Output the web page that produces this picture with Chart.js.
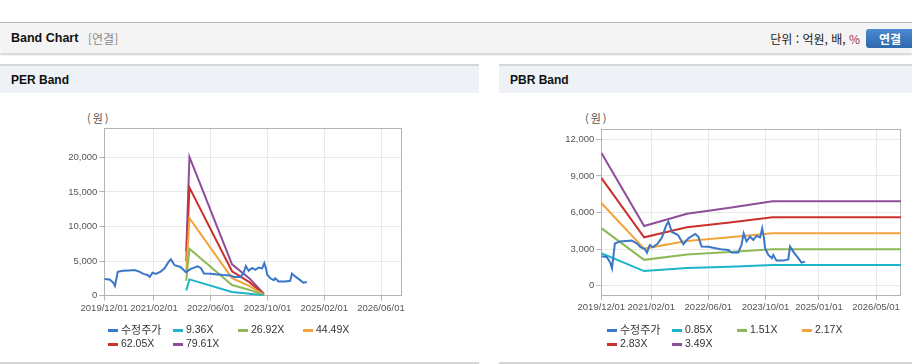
<!DOCTYPE html>
<html lang="ko">
<head>
<meta charset="UTF-8">
<title>Band Chart</title>
<script src="https://cdn.jsdelivr.net/npm/chart.js@4"></script>
<style>
    body {
        margin: 0;
        width: 912px;
        height: 364px;
        position: relative;
        overflow: hidden;
        background: #fff;
        font-family: 'Liberation Sans', 'Noto Sans CJK KR', sans-serif;
    }
    .topbar {
        position: absolute; left: 0; top: 22px; width: 912px; height: 30px;
        background: #f4f4f4;
        border-top: 1px solid #b4b4b4;
        box-shadow: 0 2px 2px rgba(0, 0, 0, 0.18);
    }
    .topbar .title { position: absolute; left: 11px; top: 8px; font-weight: bold; font-size: 12.5px; color: #111; }
    .topbar .sub { position: absolute; left: 88px; top: 8px; font-size: 12px; color: #8a8a8a; font-family: 'Noto Sans CJK KR', sans-serif; line-height: 15px; }
    .topbar .unit { position: absolute; right: 52px; top: 8px; font-size: 12px; color: #222; font-family: 'Noto Sans CJK KR', sans-serif; line-height: 15px; }
    .topbar .unit span { color: #a3324a; }
    .topbar .btn {
        position: absolute; left: 866px; top: 6px; width: 52px; height: 19px;
        border-radius: 3px;
        background: linear-gradient(#4a8ad0, #2c68ad);
        color: #fff; font-weight: bold; font-size: 12px; line-height: 19px;
        text-indent: 13px;
        font-family: 'Noto Sans CJK KR', sans-serif;
    }
    .panel {
        position: absolute; top: 64px; height: 296px;
        border-top: 2px solid #d6d6d6;
        border-bottom: 2px solid #d6d6d6;
        background: #fff;
    }
    .panel .head {
        height: 27px; background: #eef2f6;
        font-weight: bold; font-size: 12px; color: #111;
        padding-left: 11px; line-height: 28px;
    }
    .unitlbl { position: absolute; top: 110px; font-size: 11px; color: #555; letter-spacing: 2px; font-family: 'Noto Sans CJK KR', sans-serif; }
    .chartbox { position: absolute; top: 93px; }
    .legend { position: absolute; top: 323px; font-size: 10.5px; color: #333; }
    .legend .item { position: absolute; white-space: nowrap; line-height: 13px; }
    .legend .mark { position: absolute; left: 0; top: 6px; width: 10px; height: 3px; }
    .legend .txt { position: absolute; left: 13px; top: 0; }
    .legend .ko { font-family: 'Noto Sans CJK KR', sans-serif; font-size: 11px; }
</style>
</head>
<body>
<div class="topbar">
    <div class="title">Band Chart</div>
    <div class="sub">[연결]</div>
    <div class="unit">단위 : 억원, 배, <span>%</span></div>
    <div class="btn">연결</div>
</div>

<div class="panel" style="left:0;width:479px;"><div class="head">PER Band</div></div>
<div class="panel" style="left:499px;width:413px;"><div class="head">PBR Band</div></div>

<div class="unitlbl" style="left:87px;">(원)</div>
<div class="unitlbl" style="left:585px;">(원)</div>

<div class="chartbox" style="left:0;width:479px;height:230px;"><canvas id="perChart" width="479" height="230"></canvas></div>
<div class="chartbox" style="left:499px;width:413px;height:230px;"><canvas id="pbrChart" width="413" height="230"></canvas></div>

<div class="legend" id="perLegend" style="left:108px;"></div>
<div class="legend" id="pbrLegend" style="left:607px;"></div>

<script>
    // x 값은 2019/12/01 기준 개월 수
    const priceX = [0, 1.5, 2.5, 3.0, 3.8, 5.2, 7.0, 8.5, 10.0, 11.0, 12.2, 12.8, 13.6, 14.5, 15.9, 17.0, 18.2, 18.8, 19.8, 21.5,
        23.0, 24.4, 26.3, 27.2, 28.1, 30.0, 32.0, 33.5, 35.6, 36.5, 38.4, 39.3, 39.9, 40.7, 41.7, 42.6, 43.5, 44.5, 45.1, 45.6,
        45.9, 46.8, 47.8, 48.2, 49.1, 51.0, 52.4, 52.9, 53.8, 55.2, 56.1, 57.1];
    const priceY = [2400, 2350, 1900, 1420, 3450, 3620, 3660, 3700, 3450, 3150, 3000, 2700, 3330, 3150, 3480, 3950, 4950, 5250, 4400, 4150,
        3400, 3880, 4240, 4020, 3200, 3180, 3060, 2980, 2930, 2720, 2710, 3340, 4290, 3620, 4020, 3750, 4080, 3950, 4700, 3880,
        3070, 2520, 2250, 2520, 2050, 2050, 2150, 3200, 2790, 2250, 1880, 1970];

    // PER 밴드
    const perNames = ['수정주가', '9.36X', '26.92X', '44.49X', '62.05X', '79.61X'];
    const perBandX = [23.1, 24.0, 36.0, 41.0, 45.0];
    const per936 = [749, 2359, 534, 290, 28];
    const per2692 = [2154, 6784, 1534, 835, 81];
    const per4449 = [3559, 11211, 2536, 1379, 133];
    const per6205 = [4964, 15637, 3537, 1924, 186];
    const per7961 = [6369, 20062, 4538, 2468, 239];
    const perYTicks = [0, 5000, 10000, 15000, 20000];
    const perXTicks = [0, 14, 30, 46, 62, 78];
    const perXLabels = ['2019/12/01', '2021/02/01', '2022/06/01', '2023/10/01', '2025/02/01', '2026/06/01'];

    // PBR 밴드
    const pbrNames = ['수정주가', '0.85X', '1.51X', '2.17X', '2.83X', '3.49X'];
    const pbrBandX = [0, 12, 24, 36, 48, 84];
    const pbr085 = [2655, 1190, 1437, 1556, 1683, 1683];
    const pbr151 = [4716, 2114, 2552, 2763, 2990, 2990];
    const pbr217 = [6777, 3038, 3667, 3971, 4297, 4297];
    const pbr283 = [8838, 3962, 4783, 5179, 5603, 5603];
    const pbr349 = [10899, 4886, 5898, 6387, 6910, 6910];
    const pbrYTicks = [0, 3000, 6000, 9000, 12000];
    const pbrXTicks = [0, 14, 30, 46, 61, 77];
    const pbrXLabels = ['2019/12/01', '2021/02/01', '2022/06/01', '2023/10/01', '2025/01/01', '2026/05/01'];

    const colors = ['#3b77c8', '#1eb4c9', '#8dba57', '#f2a43c', '#cb302c', '#8e4e99'];

    const framePlugin = {
        id: 'frame',
        beforeDatasetsDraw(chart) {
            const a = chart.chartArea;
            const ctx = chart.ctx;
            ctx.save();
            ctx.strokeStyle = '#b4b4b4';
            ctx.lineWidth = 1;
            ctx.strokeRect(Math.round(a.left) + 0.5, Math.round(a.top) + 0.5,
                Math.round(a.right - a.left) - 1, Math.round(a.bottom - a.top));
            ctx.restore();
        }
    };

    function pts(xs, ys) {
        return xs.map((x, i) => ({ x: x, y: ys[i] }));
    }

    function makeChart(id, cfg) {
        const series = [pts(priceX, priceY)].concat(cfg.bands.map(b => pts(cfg.bandX, b)));
        const tickFont = { family: "'Liberation Sans', Arial, sans-serif", size: 9.5 };
        new Chart(document.getElementById(id), {
            type: 'line',
            data: {
                datasets: series.map((d, i) => ({
                    label: cfg.names[i],
                    data: d,
                    borderColor: colors[i],
                    backgroundColor: colors[i],
                    borderWidth: 2,
                    pointRadius: 0,
                    tension: 0,
                    fill: false
                }))
            },
            options: {
                responsive: false,
                animation: false,
                layout: { padding: cfg.padding },
                plugins: { legend: { display: false }, tooltip: { enabled: false } },
                scales: {
                    x: {
                        type: 'linear', min: 0, max: 84,
                        afterBuildTicks: s => { s.ticks = cfg.xTicks.map(v => ({ value: v })); },
                        afterFit: s => { s.height = cfg.xHeight; },
                        grid: { color: '#e8e8e8', tickLength: 5, tickColor: '#b4b4b4' },
                        border: { display: false },
                        ticks: {
                            autoSkip: false, maxRotation: 0, padding: 2, color: '#555', font: tickFont,
                            callback: (v, i) => cfg.xLabels[i]
                        }
                    },
                    y: {
                        min: cfg.yMin, max: cfg.yMax,
                        afterBuildTicks: s => { s.ticks = cfg.yTicks.map(v => ({ value: v })); },
                        afterFit: s => { s.width = cfg.yWidth; },
                        grid: { color: '#e8e8e8', tickLength: 5, tickColor: '#b4b4b4' },
                        border: { display: false },
                        ticks: {
                            padding: 2, color: '#555', font: tickFont,
                            callback: v => v.toLocaleString('en-US')
                        }
                    }
                }
            },
            plugins: [framePlugin]
        });
    }

    function makeLegend(id, names) {
        const box = document.getElementById(id);
        names.forEach((n, i) => {
            const item = document.createElement('div');
            item.className = 'item';
            item.style.left = (i % 4) * 65 + 'px';
            item.style.top = Math.floor(i / 4) * 13.5 + 'px';
            item.innerHTML = '<span class="mark" style="background:' + colors[i] + '"></span>' +
                '<span class="txt' + (i === 0 ? ' ko' : '') + '">' + n + '</span>';
            box.appendChild(item);
        });
    }

    makeChart('perChart', {
        names: perNames,
        bandX: perBandX,
        bands: [per936, per2692, per4449, per6205, per7961],
        xTicks: perXTicks, xLabels: perXLabels,
        yTicks: perYTicks, yMin: 0, yMax: 24200,
        padding: { left: 0, top: 35.3, right: 76.7, bottom: 0 },
        yWidth: 104.3, xHeight: 27.3
    });

    makeChart('pbrChart', {
        names: pbrNames,
        bandX: pbrBandX,
        bands: [pbr085, pbr151, pbr217, pbr283, pbr349],
        xTicks: pbrXTicks, xLabels: pbrXLabels,
        yTicks: pbrYTicks, yMin: -770, yMax: 12870,
        padding: { left: 0, top: 35.7, right: 11, bottom: 0 },
        yWidth: 102.3, xHeight: 28
    });

    makeLegend('perLegend', perNames);
    makeLegend('pbrLegend', pbrNames);
</script>
</body>
</html>
